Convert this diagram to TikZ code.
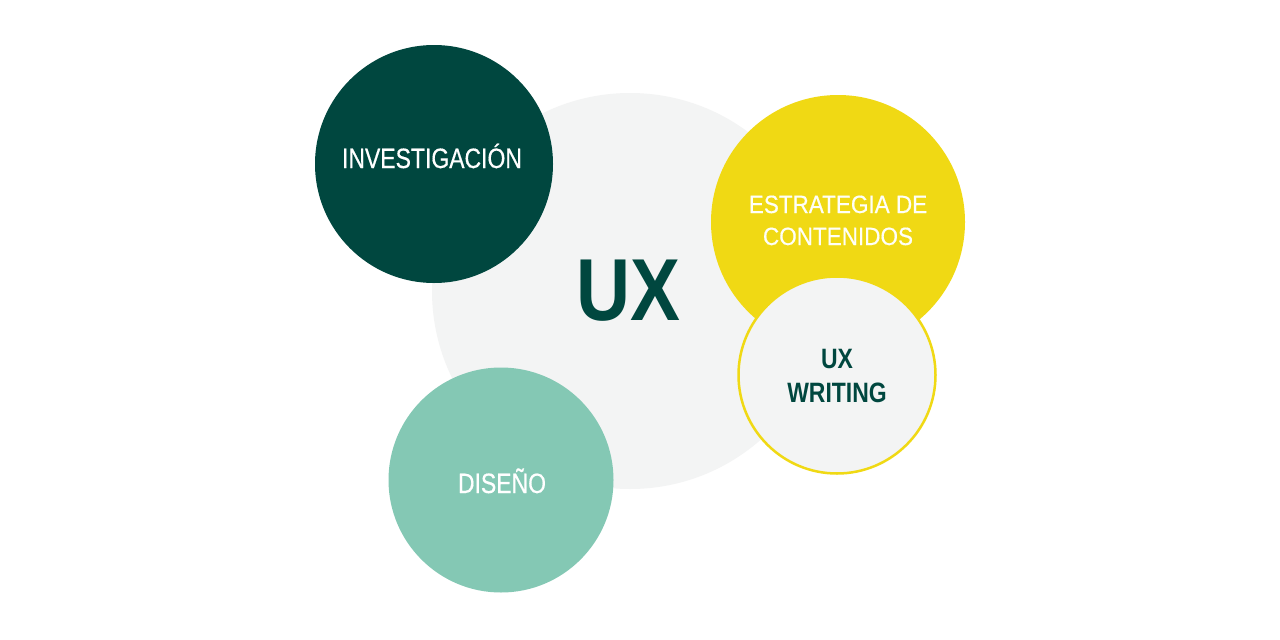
\documentclass[tikz,border=0pt]{standalone}
\usepackage{fontspec}
\setmainfont{Liberation Sans}
\newfontface\medfont{Liberation Sans}[FakeBold=0.5]
\definecolor{ugray}{HTML}{F3F4F4}
\definecolor{dgreen}{HTML}{00473F}
\definecolor{uyellow}{HTML}{F0D914}
\definecolor{uteal}{HTML}{84C8B4}
\newcommand{\nar}[1]{\scalebox{0.82}[1]{#1}}
\begin{document}
\begin{tikzpicture}[x=1pt,y=-1pt,
  blob/.style={circle,inner sep=0pt,minimum size=#1},
  lbl/.style={anchor=base,inner sep=0pt,font=\fontsize{28}{32}\medfont},
  lbls/.style={anchor=base,inner sep=0pt,font=\fontsize{25}{30}\medfont}]
\useasboundingbox[fill=white] (0,0) rectangle (1280,640);
\node[blob=396pt,fill=ugray] (ux) at (630,291) {};
\node[blob=238pt,fill=dgreen] (inv) at (434,164) {};
\node[blob=225pt,fill=uteal] (dis) at (501,480) {};
\node[blob=254pt,fill=uyellow] (est) at (838,222) {};
\node[blob=197pt,fill=ugray,draw=uyellow,line width=2.5pt] (wri) at (837,375) {};
\node[lbl,text=white] (tinv) at (432,168) {\nar{INVESTIGACIÓN}};
\node[lbls,text=white!97!yellow] (test1) at (838,213) {\scalebox{0.9}[1]{ESTRATEGIA DE}};
\node[lbls,text=white!97!yellow] (test2) at (838,245) {\scalebox{0.9}[1]{CONTENIDOS}};
\node[lbl,text=white] (tdis) at (502,493) {\nar{DISEÑO}};
\node[anchor=base,inner sep=0pt,font=\fontsize{88}{90}\selectfont\bfseries,text=dgreen] (tux) at (628,320) {\scalebox{0.85}[1]{UX}};
\node[anchor=base,inner sep=0pt,font=\fontsize{28}{32}\selectfont\bfseries,text=dgreen] (twri1) at (837,368) {\nar{UX}};
\node[anchor=base,inner sep=0pt,font=\fontsize{28}{32}\selectfont\bfseries,text=dgreen] (twri2) at (837,402) {\nar{WRITING}};
\end{tikzpicture}
\end{document}
